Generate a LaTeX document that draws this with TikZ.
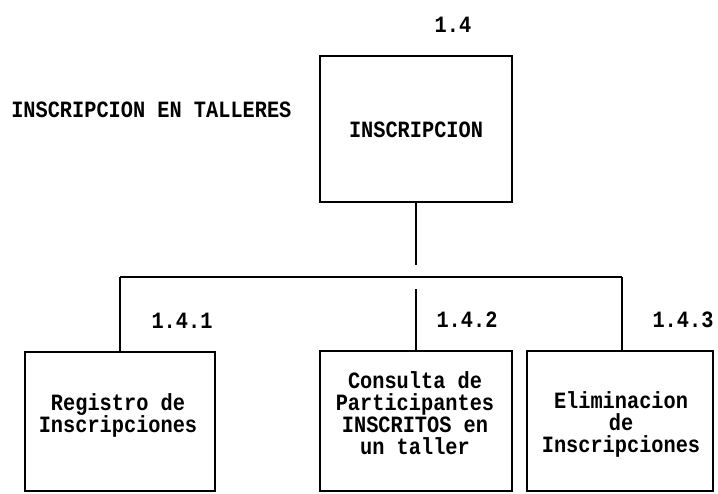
\documentclass[tikz,border=0pt]{standalone}
\usepackage{fontspec}
\newfontfamily\diagfont{Liberation Mono}[FakeStretch=0.87]
\tikzset{
  lbl/.style={font=\diagfont\bfseries\fontsize{17.5pt}{16.5pt}\selectfont, inner sep=0pt, align=center},
  boxtext/.style={font=\diagfont\bfseries\fontsize{17.5pt}{16.5pt}\selectfont, inner sep=0pt, align=center},
  procbox/.style={draw, line width=1.6pt, rectangle, inner sep=0pt, outer sep=0pt},
  conn/.style={line width=1.6pt}
}
\begin{document}
\begin{tikzpicture}[x=0.75pt,y=-0.75pt]
\useasboundingbox (0,0) rectangle (718,493);
% top process
\node[lbl] (n14) at (453,25) {1.4};
\node[lbl, anchor=west] (title) at (11,110) {INSCRIPCION EN TALLERES};
\node[procbox, minimum width=144pt, minimum height=109.5pt] (top) at (416,129) {};
\node[boxtext] (toptext) at (416,130) {INSCRIPCION};
% child boxes
\node[procbox, minimum width=142.5pt, minimum height=104.25pt] (b1) at (120,421.5) {};
\node[procbox, minimum width=144pt, minimum height=105pt] (b2) at (416,421) {};
\node[procbox, minimum width=139.5pt, minimum height=105pt] (b3) at (620,421) {};
\node[boxtext] (t1) at (118,415) {Registro de\\Inscripciones};
\node[boxtext] (t2) at (415,413) {Consulta de\\Participantes\\INSCRITOS en\\un taller};
\node[boxtext] (t3) at (621,424) {Eliminacion\\de\\Inscripciones};
% numbers
\node[lbl] (n141) at (182,321) {1.4.1};
\node[lbl] (n142) at (467,320) {1.4.2};
\node[lbl] (n143) at (683,320) {1.4.3};
% connectors
\coordinate (topend) at (416,265);
\coordinate (barL) at (120,277);
\coordinate (barR) at (622,277);
\coordinate (midstart) at (416,289);
\draw[conn] (top.south) -- (topend);
\draw[conn] (barL) -- (barR);
\draw[conn] (barL) -- (b1.north);
\draw[conn] (midstart) -- (b2.north);
\draw[conn] (barR) -- (barR |- b3.north);
\end{tikzpicture}
\end{document}
